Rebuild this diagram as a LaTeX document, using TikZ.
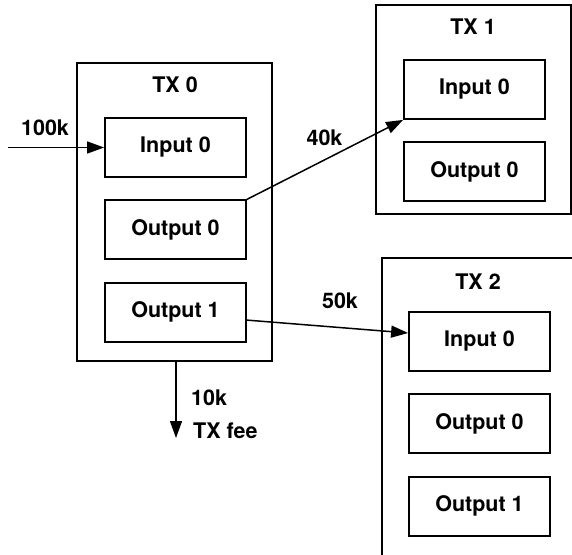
\documentclass[tikz,border=0pt]{standalone}
\usepackage{fontspec}
\setmainfont{TeX Gyre Heros}
\usetikzlibrary{positioning,arrows.meta}

\begin{document}
\begin{tikzpicture}[x=1pt,y=-1pt,node distance=21.5pt,
  every node/.style={font=\fontsize{21.5}{24}\selectfont\bfseries,inner sep=0pt},
  txbox/.style={draw,line width=1.8pt,minimum width=195pt},
  part/.style={draw,line width=1.8pt,minimum width=141pt,minimum height=59pt},
  flow/.style={line width=1.5pt,-{Triangle[length=17pt,width=12pt]}}]
  \useasboundingbox (0,0) rectangle (572,554);
  \clip (0,0) rectangle (572,554);
  % TX 0
  \node[txbox,minimum height=298pt] (tx0) at (174.5,212) {};
  \node (tx0t) at (175,85) {TX 0};
  \node[part] (tx0i0) at (175.5,147.5) {Input 0};
  \node[part,below=of tx0i0] (tx0o0) {Output 0};
  \node[part,below=of tx0o0] (tx0o1) {Output 1};
  % TX 1
  \node[txbox,minimum height=209pt] (tx1) at (473.5,109.5) {};
  \node (tx1t) at (473,27) {TX 1};
  \node[part] (tx1i0) at (474.5,89.5) {Input 0};
  \node[part,below=of tx1i0] (tx1o0) {Output 0};
  % TX 2 (runs off the page)
  \node[txbox,minimum height=310pt] (tx2) at (479.5,413) {};
  \node (tx2t) at (478,282) {TX 2};
  \node[part] (tx2i0) at (479.5,341.5) {Input 0};
  \node[part,below=of tx2i0] (tx2o0) {Output 0};
  \node[part,below=of tx2o0] (tx2o1) {Output 1};
  % flows
  \coordinate (src) at (8,147.5);
  \coordinate (fee) at (176,438);
  \draw[flow] (src) -- (tx0i0.west);
  \node (in) at (45,127.5) {100k};
  \draw[flow] (tx0o0.north east) -- (tx1i0.south west);
  \node (out0) at (324.5,137.5) {40k};
  \draw[flow] ([yshift=-8pt]tx0o1.east) -- ([yshift=8.5pt]tx2i0.west);
  \node (out1) at (340,301) {50k};
  \draw[flow] (tx0.south -| fee) -- (fee);
  \node[anchor=west] (feeamt) at (191,398) {10k};
  \node[anchor=west] (feetxt) at (193,431) {TX fee};
\end{tikzpicture}
\end{document}
